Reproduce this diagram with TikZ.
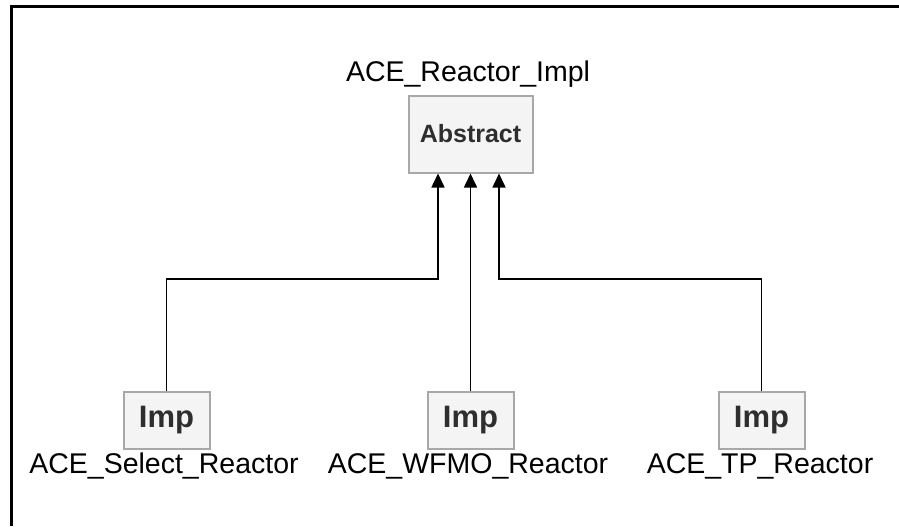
\documentclass[tikz,border=0pt]{standalone}
\usepackage{fontspec}
\setmainfont{Liberation Sans}
\usetikzlibrary{arrows.meta}
\definecolor{boxfill}{HTML}{F4F4F4}
\definecolor{boxline}{HTML}{A8A8A8}
\definecolor{boxtext}{HTML}{2E2E2E}
\tikzset{
  classbox/.style={draw=boxline, line width=2pt, fill=boxfill, inner sep=0pt,
    text=boxtext, font=\fontsize{25}{29}\selectfont\bfseries},
  impbox/.style={classbox, minimum width=86pt, minimum height=57pt,
    font=\fontsize{31}{36}\selectfont\bfseries},
  absbox/.style={classbox, minimum width=124pt, minimum height=77pt},
  lbl/.style={font=\fontsize{28.5}{33}\selectfont, inner sep=0pt, text=black},
  conn/.style={line width=1.6pt, -{Triangle[length=14pt,width=13pt]}},
  frameline/.style={line width=3pt, black}
}
\begin{document}
\begin{tikzpicture}[x=1pt,y=-1pt]
\useasboundingbox (0,0) rectangle (899,527);
% frame
\coordinate (fbl) at (11,526);
\coordinate (ftl) at (11,7);
\coordinate (ftr) at (899,7);
\draw[frameline] (fbl) -- (ftl) -- (ftr);
% abstract class
\node[absbox] (abs) at (470.5,134) {Abstract};
\node[lbl] (abslbl) at (468,74) {ACE\_Reactor\_Impl};
% implementations
\node[impbox] (sel) at (166.5,420) {Imp};
\node[impbox] (wf) at (470.5,420) {Imp};
\node[impbox] (tp) at (761.5,420) {Imp};
\node[lbl] (sellbl) at (164,466) {ACE\_Select\_Reactor};
\node[lbl] (wflbl) at (468,466) {ACE\_WFMO\_Reactor};
\node[lbl] (tplbl) at (760,466) {ACE\_TP\_Reactor};
% connectors
\coordinate (j1) at (438,279);
\coordinate (j3) at (499,279);
\draw[conn] (sel.north) |- (j1) -- (j1 |- abs.south);
\draw[conn] (wf.north) -- (wf.north |- abs.south);
\draw[conn] (tp.north) |- (j3) -- (j3 |- abs.south);
\end{tikzpicture}
\end{document}
